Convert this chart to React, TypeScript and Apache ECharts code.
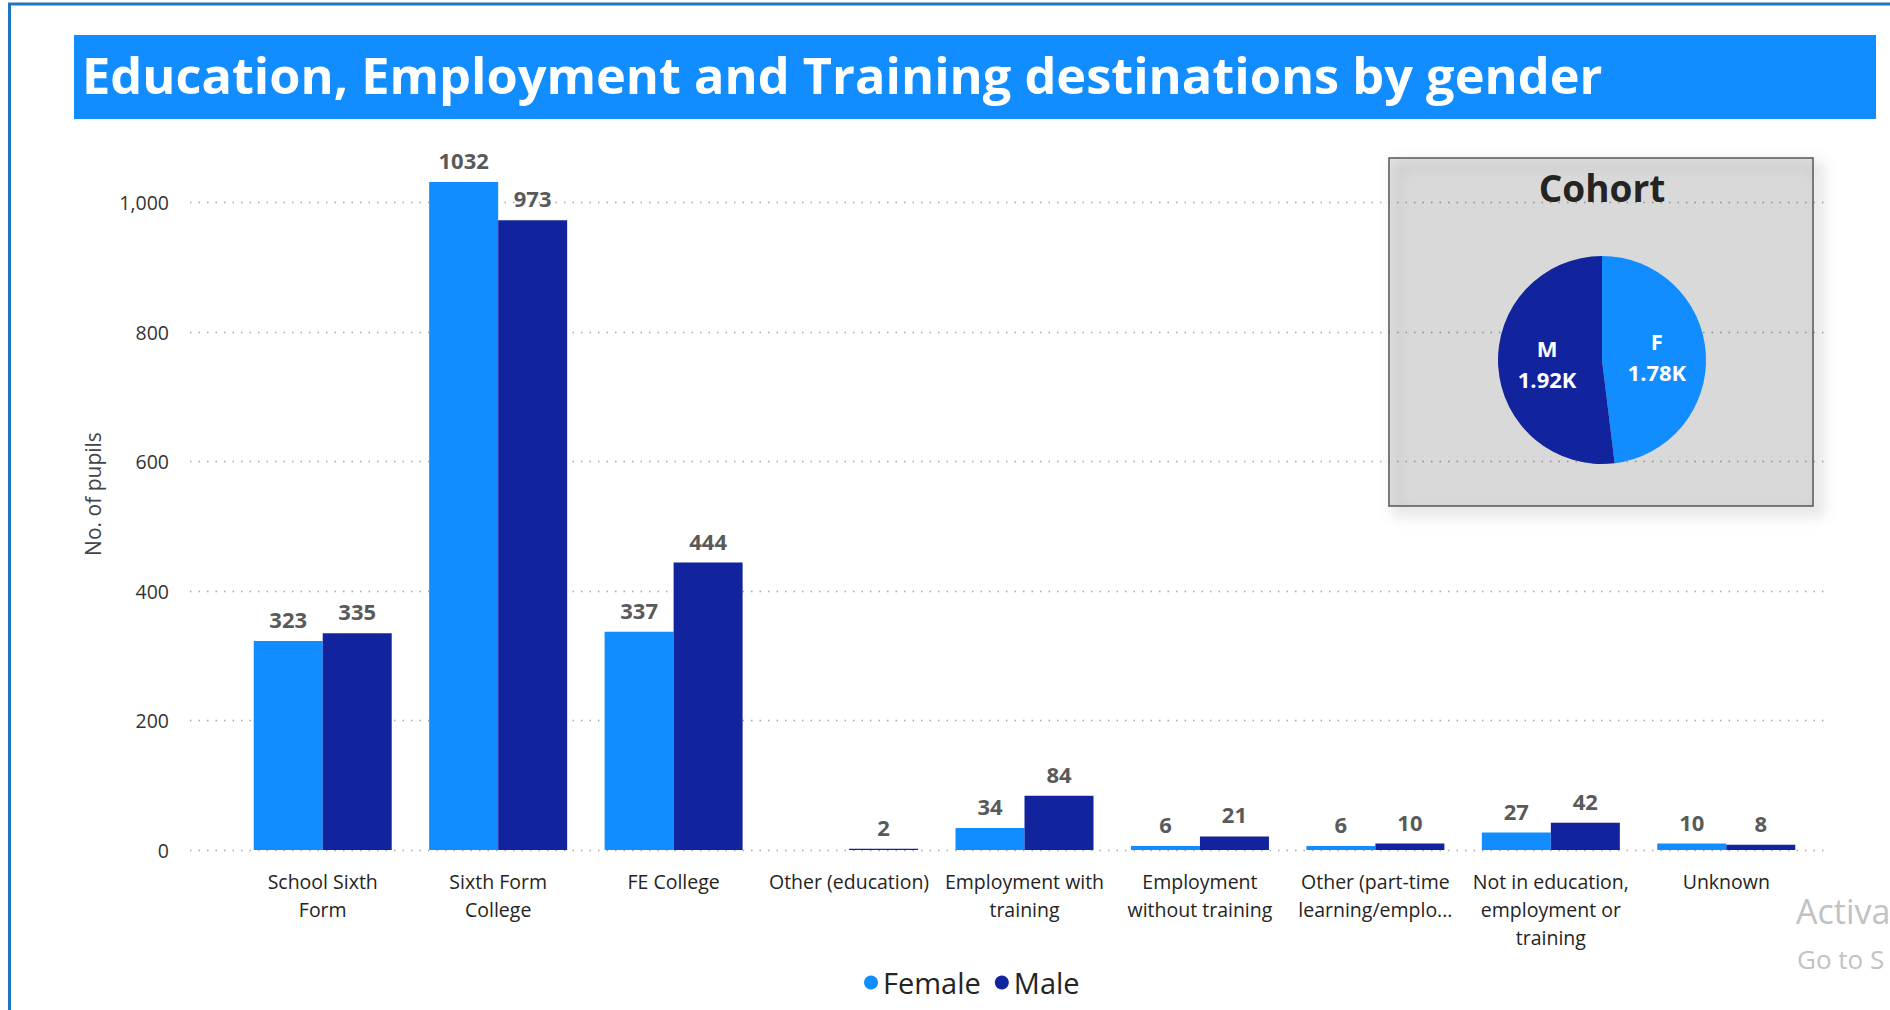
import React, { useEffect, useRef } from "react";
import * as echarts from "echarts";

const categories = [
  "School Sixth Form",
  "Sixth Form College",
  "FE College",
  "Other (education)",
  "Employment with training",
  "Employment without training",
  "Other (part-time learning/employment)",
  "Not in education, employment or training",
  "Unknown",
];
const categoryLabels = [
  "School Sixth\nForm",
  "Sixth Form\nCollege",
  "FE College",
  "Other (education)",
  "Employment with\ntraining",
  "Employment\nwithout training",
  "Other (part-time\nlearning/emplo...",
  "Not in education,\nemployment or\ntraining",
  "Unknown",
];
const female: (number | null)[] = [323, 1032, 337, null, 34, 6, 6, 27, 10];
const male: (number | null)[] = [335, 973, 444, 2, 84, 21, 10, 42, 8];
const seriesNames = ["Female", "Male"];
const cohortNames = ["F", "M"];
const yMin = 0;
const yMax = 1100;
const yInterval = 200;

const FEMALE_COLOR = "#118DFF";
const MALE_COLOR = "#12239E";
const FONT = '"Open Sans", "Noto Sans", sans-serif';

const sum = (a: (number | null)[]) => a.reduce((s: number, v) => s + (v ?? 0), 0);

export default function App() {
  const ref = useRef<HTMLDivElement>(null);
  useEffect(() => {
    if (!ref.current) return;
    const chart = echarts.init(ref.current, null, { renderer: "svg" });
    const labelMap: Record<string, string> = {};
    categories.forEach((c, i) => (labelMap[c] = categoryLabels[i]));
    const cohort = [
      { name: cohortNames[0], value: sum(female), itemStyle: { color: FEMALE_COLOR } },
      { name: cohortNames[1], value: sum(male), itemStyle: { color: MALE_COLOR } },
    ];
    const dataLabel = {
      show: true,
      position: "top",
      distance: 11,
      color: "#5a5a5a",
      fontWeight: "bold",
      fontSize: 22,
      fontFamily: FONT,
    };
    const option: any = {
      animation: false,
      backgroundColor: "#ffffff",
      textStyle: { fontFamily: FONT },
      graphic: [
        {
          type: "rect",
          z: 0,
          shape: { x: 9.5, y: 4, width: 2200, height: 2200 },
          style: { fill: "none", stroke: "#1b76c4", lineWidth: 3 },
        },
        {
          type: "rect",
          z: 0,
          shape: { x: 74, y: 35, width: 1802, height: 84 },
          style: { fill: "#118DFF" },
        },
        {
          type: "text",
          z: 1,
          x: 82,
          y: 74,
          style: {
            text: "Education, Employment and Training destinations by gender",
            fill: "#ffffff",
            font: `bold 50.5px ${FONT}`,
            verticalAlign: "middle",
            textAlign: "left",
          },
        },
        {
          type: "rect",
          z: 1,
          shape: { x: 1389, y: 158, width: 424, height: 348 },
          style: {
            fill: "rgba(0,0,0,0.10)",
            stroke: "#555555",
            lineWidth: 1.5,
            shadowBlur: 14,
            shadowOffsetX: 7,
            shadowOffsetY: 7,
            shadowColor: "rgba(0,0,0,0.5)",
          },
        },
        {
          type: "text",
          z: 3,
          x: 1602,
          y: 187,
          style: {
            text: "Cohort",
            fill: "#252423",
            font: `bold 37px ${FONT}`,
            textAlign: "center",
            verticalAlign: "middle",
          },
        },
        {
          type: "text",
          z: 3,
          x: 1796,
          y: 911,
          style: {
            text: "Activa",
            fill: "#c2c2c2",
            font: `34px ${FONT}`,
            textAlign: "left",
            verticalAlign: "middle",
          },
        },
        {
          type: "text",
          z: 3,
          x: 1797,
          y: 959,
          style: {
            text: "Go to S",
            fill: "#c2c2c2",
            font: `26px ${FONT}`,
            textAlign: "left",
            verticalAlign: "middle",
          },
        },
      ],
      legend: {
        data: seriesNames,
        icon: "circle",
        itemWidth: 14,
        itemHeight: 14,
        itemGap: 14,
        padding: 0,
        left: 864,
        top: 968,
        textStyle: { fontSize: 29, color: "#252423", fontFamily: FONT },
      },
      grid: [
        { left: 190, right: 60, top: 138, bottom: 160 },
        { left: 235, right: 76, top: 138, bottom: 160 },
      ],
      xAxis: [
        { type: "category", gridIndex: 0, data: [""], show: false },
        {
          type: "category",
          gridIndex: 1,
          data: categories,
          axisLine: { show: false },
          axisTick: { show: false },
          axisLabel: {
            interval: 0,
            margin: 17,
            fontSize: 19.5,
            lineHeight: 28,
            color: "#252423",
            fontFamily: FONT,
            formatter: (v: string) => labelMap[v] ?? v,
          },
        },
      ],
      yAxis: [
        {
          type: "value",
          gridIndex: 0,
          min: yMin,
          max: yMax,
          interval: yInterval,
          name: "No. of pupils",
          nameLocation: "middle",
          nameRotate: 90,
          nameGap: 87,
          nameTextStyle: { fontSize: 21, color: "#444444", fontFamily: FONT },
          axisLine: { show: false },
          axisTick: { show: false },
          axisLabel: {
            margin: 21,
            fontSize: 19.5,
            color: "#333333",
            showMaxLabel: false,
            formatter: (v: number) => v.toLocaleString("en-US"),
          },
          splitLine: {
            show: true,
            showMaxLine: false,
            lineStyle: { color: "#a8a8a8", width: 1.3, type: [1.5, 7] },
          },
        },
        {
          type: "value",
          gridIndex: 1,
          min: yMin,
          max: yMax,
          interval: yInterval,
          show: false,
          splitLine: { show: false },
        },
      ],
      series: [
        {
          name: seriesNames[0],
          type: "bar",
          xAxisIndex: 1,
          yAxisIndex: 1,
          data: female,
          barWidth: 69,
          barGap: "0%",
          itemStyle: { color: FEMALE_COLOR },
          label: dataLabel,
        },
        {
          name: seriesNames[1],
          type: "bar",
          xAxisIndex: 1,
          yAxisIndex: 1,
          data: male,
          barWidth: 69,
          barGap: "0%",
          itemStyle: { color: MALE_COLOR },
          label: dataLabel,
        },
        {
          type: "pie",
          z: 5,
          center: [1602, 360],
          radius: 104,
          startAngle: 90,
          clockwise: true,
          legendHoverLink: false,
          data: cohort,
          label: {
            show: true,
            position: "inside",
            color: "#ffffff",
            fontWeight: "bold",
            fontSize: 22,
            lineHeight: 31,
            fontFamily: FONT,
            formatter: (p: any) => `${p.name}\n${(Math.round(p.value / 10) / 100).toFixed(2)}K`,
          },
          labelLine: { show: false },
        },
      ],
    };
    chart.setOption(option);
    return () => chart.dispose();
  }, []);
  return (
    <div
      ref={ref}
      style={{
        position: "fixed",
        left: 0,
        top: 0,
        width: 1890,
        height: 1010,
        overflow: "hidden",
        background: "#ffffff",
      }}
    />
  );
}
